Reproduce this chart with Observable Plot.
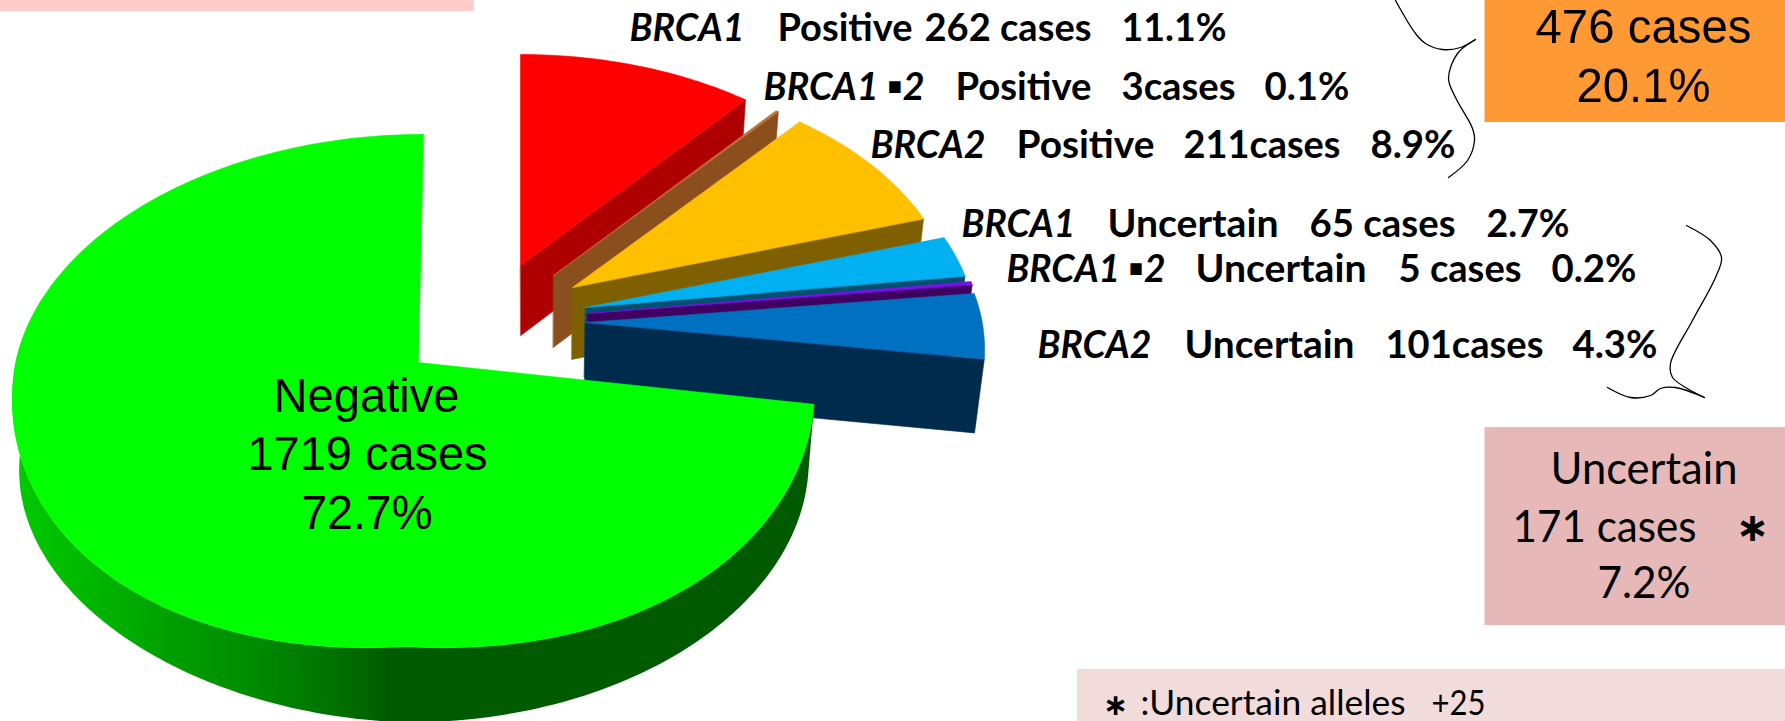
<!DOCTYPE html>
<html><head><meta charset="utf-8">
<style>html,body{margin:0;padding:0;background:#fff;overflow:hidden}svg{display:block}</style>
<script src="https://cdn.jsdelivr.net/npm/d3@7"></script>
<script src="https://cdn.jsdelivr.net/npm/@observablehq/plot@0.6"></script>
</head><body><div id="chart"></div>
<script>
// ---- data ----
const sliceNames = ["BRCA1 Positive","BRCA1-2 Positive","BRCA2 Positive","BRCA1 Uncertain","BRCA1-2 Uncertain","BRCA2 Uncertain","Negative"];
const sliceCases = [262,3,211,65,5,101,1719];
const geneLabels = ["BRCA1","BRCA1 ▪2","BRCA2","BRCA1","BRCA1 ▪2","BRCA2"];
const statusLabels = ["Positive","Positive","Positive","Uncertain","Uncertain","Uncertain"];
const caseLabels = ["262 cases","3cases","211cases","65 cases","5 cases","101cases"];
const pctLabels = ["11.1%","0.1%","8.9%","2.7%","0.2%","4.3%"];
const negativeLines = ["Negative","1719 cases","72.7%"];
const positiveLines = ["476 cases","20.1%"];
const uncertainLines = ["Uncertain","171 cases","7.2%"];
const footnote = ["∗",":Uncertain alleles","+25"];

// ---- styling and layout ----
const topColors = ["#ff0000","#c0703a","#ffc000","#00b0f0","#7a10e8","#0070c0","#00ff00"];
const sideColors = ["#ae0000","#8b4f1e","#7f6000","#00506e","#3f0060","#002b4d","url(#greenSide)"];
const apexX = [520,553,572,585,587,585,418];
const apexY = [265,275,287,307,313,322,362];
const scaleX = [.93,.92,.93,.95,.96,.97,.975];
const scaleY = [.925,.92,.93,.945,.96,.965,1];
const rimDx = [0,0,0,0,0,0,-4];
const rimShear = [0,0,0,0,0,0,9];
const rimBulge = [0,0,0,0,0,0,28];
const depth = [70,72,72,70,70,74,76];
const A = 409, B = 253, Q = .109, VX = 540, KR = .022, KL = .013;
const greenStops = [[10,"#00cc00"],[100,"#00b400"],[170,"#009f00"],[250,"#008c00"],[330,"#007300"],[390,"#005a00"],[816,"#005a00"]];

const rows = [
 {y:40, c:[[629,744],[777,912],[924,1091],[1121,1226]]},
 {y:99, c:[[763,924],[955,1091],[1121,1235],[1264,1349]]},
 {y:157,c:[[870,985],[1016,1154],[1183,1340],[1370,1455]]},
 {y:236,c:[[961,1075],[1107,1278],[1309,1455],[1486,1569]]},
 {y:281,c:[[1006,1165],[1195,1366],[1398,1521],[1551,1636]]},
 {y:357,c:[[1037,1151],[1184,1354],[1385,1543],[1572,1657]]}
];
const panels = [
 {x1:0,x2:474,y1:0,y2:11,fill:"#ffcccc"},
 {x1:1484.5,x2:1785,y1:0,y2:122,fill:"#ff9933"},
 {x1:1484.5,x2:1785,y1:427,y2:625,fill:"#e6b8b7"},
 {x1:1077,x2:1785,y1:669,y2:721,fill:"#f2dcdb"}
];
const bracketA = [[1395,0],[1415,33],[1425,43],[1442,49],[1460,47],[1475,39]];
const bracketB = [[1475,39],[1457,53],[1448,78],[1455,97],[1472,128],[1474,140],[1467,160],[1448,177]];
const bracketC = [[1686,225],[1710,240],[1721,257],[1715,277],[1692,320],[1670,363],[1672,377],[1704,397]];
const bracketD = [[1607,387],[1630,397],[1650,395],[1660,388],[1675,387],[1704,397]];

// ---- geometry from the values ----
const total = d3.sum(sliceCases);
let acc = 0;
const slices = sliceNames.map((name,i)=>{const a0=acc/total*360; acc+=sliceCases[i]; return {name,i,a0,a1:acc/total*360};});
function rim(i,deg,flat){
  const t=deg*Math.PI/180,u=Math.sin(t),v=-Math.cos(t),d=1-Q*v;
  let bulge=0;
  if(v>0){
    if(!flat) bulge=rimBulge[i]*Math.abs(u)*v;
    else if(u<0) bulge=-.5*rimBulge[i]*Math.abs(u)*v;
  }
  return {x:apexX[i]+rimDx[i]+scaleX[i]*A*u/d-rimShear[i]*v, y:apexY[i]+scaleY[i]*B*v/d+bulge};
}
const down=(p,i)=>({x:p.x-(p.x>VX?KR:KL)*(p.x-VX),y:p.y+depth[i]});
const polys=[];
const addPoly=(id,fill,pts)=>pts.forEach(p=>polys.push({id,fill,x:p.x,y:p.y}));
for(const s of slices.slice(0,6)){
  const i=s.i, apex={x:apexX[i],y:apexY[i]};
  const e=rim(i,s.a1);
  addPoly("side"+i,sideColors[i],[apex,e,down(e,i),down(apex,i)]);
  const arc=d3.range(0,41).map(k=>rim(i,s.a0+(s.a1-s.a0)*k/40));
  addPoly("top"+i,topColors[i],[apex,...arc]);
}
const g=slices[6];
const greenAngles=d3.range(0,241).map(k=>g.a0+(g.a1-g.a0)*k/240);
const sideAngles=greenAngles.filter(a=>a<=285);
const greenSide=[...sideAngles.map(a=>rim(6,a)),...sideAngles.slice().reverse().map(a=>down(rim(6,a,true),6))];
const greenTop=[{x:apexX[6],y:apexY[6]},...greenAngles.map(a=>rim(6,a))];
const brackets=[bracketA,bracketB,bracketC,bracketD].flatMap((b,id)=>b.map(([x,y])=>({id,x,y})));

// text helper: fit a text to its measured width
const fitted = (data,opts)=>Plot.text(data,{x:"x",y:"y",text:"t",textAnchor:"start",lineAnchor:"bottom",fill:"#000",...opts,
  render(index,scales,values,dims,ctx,next){
    const node=next(index,scales,values,dims,ctx);
    d3.select(node).selectAll("text").each(function(_,j){
      const d=data[index[j]];
      if(d.w){this.setAttribute("textLength",d.w);this.setAttribute("lengthAdjust","spacingAndGlyphs");}
    });
    return node;
  }});
const geneData=rows.map((r,i)=>({x:r.c[0][0],y:r.y,w:r.c[0][1]-r.c[0][0],t:geneLabels[i]}));
const boldData=rows.flatMap((r,i)=>[[statusLabels[i],1],[caseLabels[i],2],[pctLabels[i],3]].map(([t,c])=>({x:r.c[c][0],y:r.y,w:r.c[c][1]-r.c[c][0],t})));
const arial={fontFamily:"Liberation Sans",fontSize:49};
const lato={fontFamily:"Lato"};
const gradientDefs=(index,{x})=>{
  const defs=d3.create("svg:defs");
  const lg=defs.append("linearGradient").attr("id","greenSide").attr("gradientUnits","userSpaceOnUse")
    .attr("x1",x(0)).attr("x2",x(816)).attr("y1",0).attr("y2",0);
  greenStops.forEach(([p,c])=>lg.append("stop").attr("offset",p/816).attr("stop-color",c));
  return defs.node();
};

const plot=Plot.plot({
  width:1785,height:721,margin:0,
  x:{type:"linear",domain:[0,1785],range:[0,1785],axis:null},
  y:{type:"linear",domain:[0,721],range:[0,721],axis:null},
  color:{type:"identity"},
  marks:[
    gradientDefs,
    Plot.rect(panels,{x1:"x1",x2:"x2",y1:"y1",y2:"y2",fill:"fill"}),
    Plot.line(polys,{x:"x",y:"y",z:"id",fill:"fill",stroke:"fill",strokeWidth:.6,curve:"linear-closed"}),
    Plot.line(greenSide,{x:"x",y:"y",fill:"url(#greenSide)",stroke:"none",curve:"linear-closed"}),
    Plot.line(greenTop,{x:"x",y:"y",fill:topColors[6],stroke:topColors[6],strokeWidth:.6,curve:"linear-closed"}),
    Plot.line(brackets,{x:"x",y:"y",z:"id",stroke:"#000",strokeWidth:1.3,curve:"catmull-rom"}),
    fitted(geneData,{...lato,fontSize:39,fontWeight:"bold",fontStyle:"italic"}),
    fitted(boldData,{...lato,fontSize:39,fontWeight:"bold"}),
    fitted([
      {x:273,y:411,w:186,t:negativeLines[0]},
      {x:247,y:469,w:240,t:negativeLines[1]},
      {x:301,y:528,w:131,t:negativeLines[2]}
    ],arial),
    fitted([
      {x:1535,y:42,w:216,t:positiveLines[0]},
      {x:1576,y:101,w:134,t:positiveLines[1]}
    ],arial),
    fitted([
      {x:1550,y:483,w:187,t:uncertainLines[0]},
      {x:1512,y:541,w:184,t:uncertainLines[1]},
      {x:1597,y:597,w:93,t:uncertainLines[2]}
    ],{...lato,fontSize:44}),
    Plot.text([footnote[0]],{x:()=>1752,y:()=>540,text:d=>d,fontFamily:"DejaVu Sans",fontWeight:"bold",fontSize:40,lineAnchor:"bottom"}),
    Plot.text([footnote[0]],{x:()=>1115,y:()=>714,text:d=>d,fontFamily:"DejaVu Sans",fontWeight:"bold",fontSize:30,lineAnchor:"bottom"}),
    fitted([
      {x:1140,y:714,w:265,t:footnote[1]},
      {x:1431,y:714,w:54,t:footnote[2]}
    ],{...lato,fontSize:35})
  ]
});
document.getElementById("chart").append(plot);
</script></body></html>
